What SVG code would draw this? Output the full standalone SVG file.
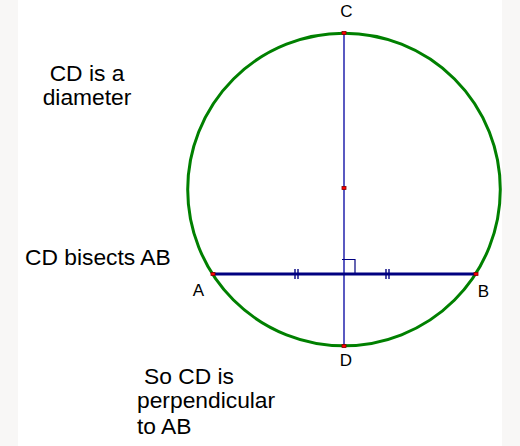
<svg xmlns="http://www.w3.org/2000/svg" width="520" height="446" viewBox="0 0 520 446">
<style>
.txt{font-family:"Liberation Sans",Arial,sans-serif;font-size:22.8px;fill:#000}
.lbl{font-family:"Liberation Sans",Arial,sans-serif;font-size:17px;fill:#000}
.pt{fill:#ff0000;stroke:#800000;stroke-width:0.8}
.tick{stroke:#000080;stroke-width:1.4}
</style>
<rect x="0" y="0" width="520" height="446" fill="#ffffff"/>
<rect x="0" y="0" width="18" height="446" fill="#f8f7f6"/>
<rect x="502" y="0" width="18" height="446" fill="#f8f7f6"/>
<g id="circle">
<circle cx="344" cy="189.5" r="156.3" fill="none" stroke="#008000" stroke-width="3"/>
</g>
<g id="connectors">
<line x1="344" y1="33" x2="344" y2="346" stroke="#0000a0" stroke-width="1.3"/>
<line x1="213" y1="274" x2="476" y2="274" stroke="#000080" stroke-width="3"/>
<line class="tick" x1="295" y1="269" x2="295" y2="279"/>
<line class="tick" x1="298" y1="269" x2="298" y2="279"/>
<line class="tick" x1="386" y1="269" x2="386" y2="279"/>
<line class="tick" x1="389" y1="269" x2="389" y2="279"/>
<polyline points="342,259.5 355,259.5 355,274" fill="none" stroke="#000080" stroke-width="1.2"/>
</g>
<g id="C"><rect class="pt" x="342" y="31.5" width="4" height="3"/><text class="lbl" x="346.5" y="17" text-anchor="middle">C</text></g>
<g id="O"><rect class="pt" x="342" y="186.5" width="4" height="3"/></g>
<g id="A"><rect class="pt" x="211" y="272.5" width="4" height="3"/><text class="lbl" x="198.5" y="296" text-anchor="middle">A</text></g>
<g id="B"><rect class="pt" x="474" y="272.5" width="4" height="3"/><text class="lbl" x="483.5" y="296.5" text-anchor="middle">B</text></g>
<g id="D"><rect class="pt" x="342" y="344.5" width="4" height="3"/><text class="lbl" x="346" y="366" text-anchor="middle">D</text></g>
<g id="notes">
<text class="txt" x="87" y="81" text-anchor="middle">CD is a</text>
<text class="txt" x="87" y="105" text-anchor="middle">diameter</text>
<text class="txt" x="25" y="265">CD bisects AB</text>
<text class="txt" x="144" y="384">So CD is</text>
<text class="txt" x="137" y="408">perpendicular</text>
<text class="txt" x="137" y="434">to AB</text>
</g>
</svg>
